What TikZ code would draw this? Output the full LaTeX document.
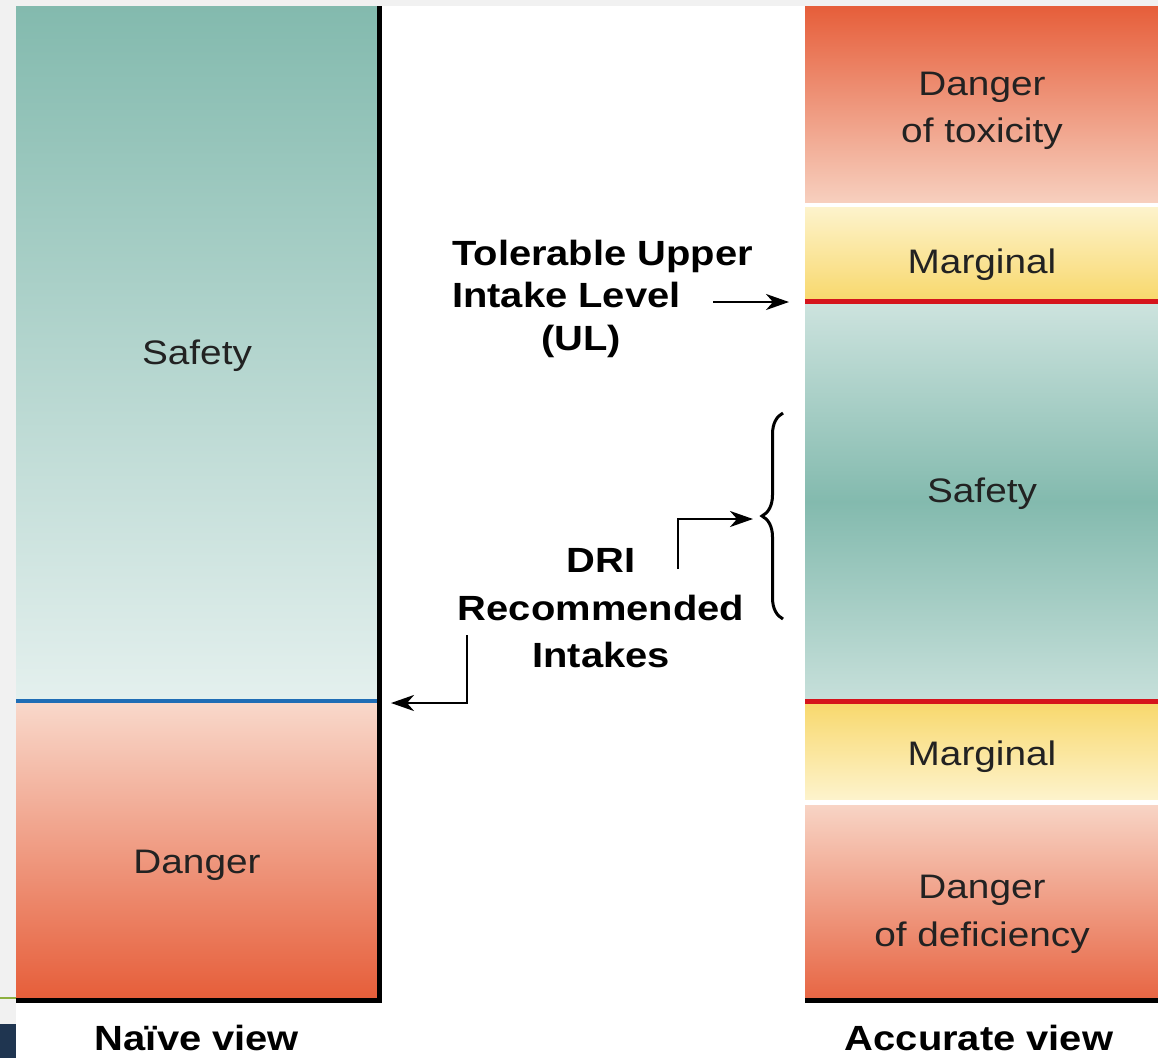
\documentclass[tikz,border=0pt]{standalone}
\usepackage{fontspec}
\setmainfont{Liberation Sans}[FakeStretch=1.14]
\usetikzlibrary{arrows.meta,decorations.pathreplacing}
\definecolor{tealdark}{HTML}{83BAAE}
\definecolor{teallight}{HTML}{E4F0EE}
\definecolor{orangedark}{HTML}{E65E3A}
\definecolor{orangelight}{HTML}{F7CFBE}
\definecolor{yellowdark}{HTML}{F8D86C}
\definecolor{yellowlight}{HTML}{FDF3CC}
\definecolor{redline}{HTML}{D5141C}
\definecolor{blueline}{HTML}{1F6DB5}
\definecolor{txt}{HTML}{222222}
\definecolor{bgstripe}{HTML}{F1F1F1}
\definecolor{navy}{HTML}{1F3550}
\definecolor{leaf}{HTML}{8DB040}
\begin{document}
\begin{tikzpicture}[x=1pt,y=-1pt,
  lab/.style={font=\fontsize{34}{40}\selectfont, text=txt, anchor=base, inner sep=0pt},
  blab/.style={font=\fontsize{35}{42}\selectfont\bfseries, text=black, anchor=base, inner sep=0pt},
  arr/.style={line width=2.5pt, -{Stealth[length=23pt,width=16pt,inset=7pt]}}]
\useasboundingbox (0,0) rectangle (1158,1058);
% slide template remnants
\fill[bgstripe] (0,0) rectangle (1158,6);
\fill[bgstripe] (0,0) rectangle (16,1058);
\fill[navy] (0,1024) rectangle (16,1058);
\draw[leaf, line width=1.5pt] (0,998) -- (16,998);

% ---------- Naive view ----------
\shade[top color=tealdark, bottom color=teallight] (16,6) rectangle (377,701);
\shade[top color=orangelight!80!white, bottom color=orangedark] (16,701) rectangle (377,998);
\draw[blueline, line width=4pt] (16,701) -- (377,701);
\draw[black, line width=5pt] (379,6) -- (379,1003);
\draw[black, line width=5pt] (16,1000.5) -- (381.5,1000.5);

\node[lab] (nsafety) at (197,364) {Safety};
\node[lab] (ndanger) at (197,873) {Danger};
\node[blab] (naive) at (197,1050) {Naïve view};

% ---------- Accurate view ----------
\shade[top color=orangedark, bottom color=orangelight] (805,6) rectangle (1158,202);
\shade[top color=yellowlight, bottom color=yellowdark] (805,207) rectangle (1158,301);
\shade[top color=tealdark!40!white, bottom color=tealdark!45!white, middle color=tealdark] (805,301) rectangle (1158,702);
\shade[top color=yellowdark, bottom color=yellowlight] (805,702) rectangle (1158,799);
\shade[top color=orangelight!90!white, bottom color=orangedark!95!white] (805,805) rectangle (1158,998);
\draw[redline, line width=4.5pt] (805,301.5) -- (1158,301.5);
\draw[redline, line width=4.5pt] (805,701.5) -- (1158,701.5);
\draw[black, line width=5pt] (805,1000.5) -- (1158,1000.5);

\node[lab] (tox1) at (982,95) {Danger};
\node[lab] (tox2) at (982,142) {of toxicity};
\node[lab] (marg1) at (982,273) {Marginal};
\node[lab] (rsafety) at (982,502) {Safety};
\node[lab] (marg2) at (982,765) {Marginal};
\node[lab] (def1) at (982,898) {Danger};
\node[lab] (def2) at (982,946) {of deficiency};
\node[blab] (accurate) at (979,1050) {Accurate view};

% ---------- middle labels ----------
\node[blab, anchor=base west] (ul1) at (452,265) {Tolerable Upper};
\node[blab, anchor=base west] (ul2) at (452,307) {Intake Level};
\node[blab] (ul3) at (581,350) {(UL)};

\node[blab] (dri1) at (601,572) {DRI};
\node[blab] (dri2) at (601,620) {Recommended};
\node[blab] (dri3) at (601,667) {Intakes};

% connectors
\coordinate (ulstart) at (713,302);
\coordinate (ultip) at (789,302);
\draw[arr] (ulstart) -- (ultip);

\coordinate (bracetop) at (783,413);
\coordinate (bracebot) at (783,619);
\draw[line width=3pt, decoration={brace, amplitude=21pt, aspect=0.5}, decorate]
  (bracebot) -- (bracetop);
\coordinate (dristart) at (678,569);
\coordinate (dritip) at (753,519);
\draw[arr] (dristart) |- (dritip);

\coordinate (nstart) at (467,635);
\coordinate (ntip) at (391,703);
\draw[arr] (nstart) |- (ntip);
\end{tikzpicture}
\end{document}
